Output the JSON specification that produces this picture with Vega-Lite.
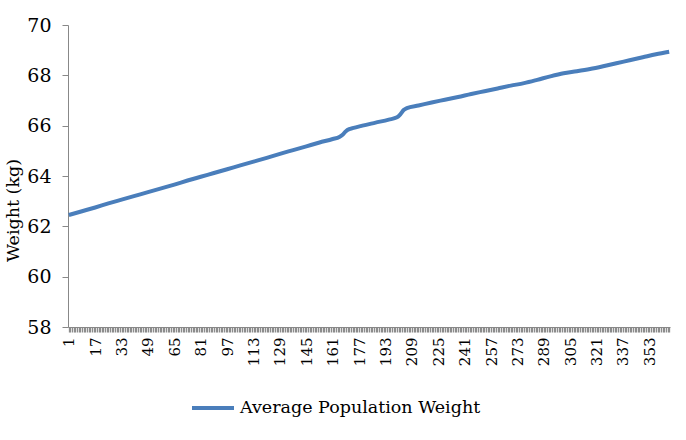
{
  "$schema": "https://vega.github.io/schema/vega-lite/v6.json",
  "width": 602,
  "height": 302,
  "autosize": {"type": "none"},
  "padding": {"left": 68, "top": 25, "right": 16, "bottom": 113},
  "background": "white",
  "config": {"view": {"stroke": null}, "font": "DejaVu Serif"},
  "data": {
    "values": [
      {"day": 1, "weight": 62.45},
      {"day": 9, "weight": 62.60},
      {"day": 17, "weight": 62.75},
      {"day": 25, "weight": 62.91},
      {"day": 33, "weight": 63.06},
      {"day": 41, "weight": 63.21},
      {"day": 49, "weight": 63.36},
      {"day": 57, "weight": 63.51},
      {"day": 65, "weight": 63.66},
      {"day": 73, "weight": 63.82},
      {"day": 81, "weight": 63.97},
      {"day": 89, "weight": 64.12},
      {"day": 97, "weight": 64.27},
      {"day": 105, "weight": 64.42},
      {"day": 113, "weight": 64.57},
      {"day": 121, "weight": 64.72},
      {"day": 129, "weight": 64.88},
      {"day": 137, "weight": 65.03},
      {"day": 145, "weight": 65.18},
      {"day": 153, "weight": 65.33},
      {"day": 161, "weight": 65.47},
      {"day": 165, "weight": 65.55},
      {"day": 167, "weight": 65.64},
      {"day": 169, "weight": 65.78},
      {"day": 171, "weight": 65.86},
      {"day": 173, "weight": 65.90},
      {"day": 179, "weight": 66.00},
      {"day": 187, "weight": 66.12},
      {"day": 195, "weight": 66.24},
      {"day": 200, "weight": 66.33},
      {"day": 202, "weight": 66.45},
      {"day": 204, "weight": 66.62},
      {"day": 206, "weight": 66.70},
      {"day": 213, "weight": 66.80},
      {"day": 221, "weight": 66.92},
      {"day": 229, "weight": 67.03},
      {"day": 237, "weight": 67.14},
      {"day": 245, "weight": 67.26},
      {"day": 253, "weight": 67.37},
      {"day": 261, "weight": 67.48},
      {"day": 269, "weight": 67.59},
      {"day": 277, "weight": 67.69},
      {"day": 285, "weight": 67.82},
      {"day": 293, "weight": 67.96},
      {"day": 301, "weight": 68.08},
      {"day": 309, "weight": 68.16},
      {"day": 317, "weight": 68.25},
      {"day": 325, "weight": 68.36},
      {"day": 333, "weight": 68.48},
      {"day": 341, "weight": 68.60},
      {"day": 349, "weight": 68.72},
      {"day": 357, "weight": 68.84},
      {"day": 365, "weight": 68.94}
    ]
  },
  "mark": {"type": "line", "strokeWidth": 4, "interpolate": "monotone"},
  "encoding": {
    "x": {
      "field": "day",
      "type": "quantitative",
      "scale": {"domain": [0.5, 365.5], "nice": false, "zero": false},
      "axis": {
        "title": null,
        "grid": false,
        "tickCount": 365,
        "labelExpr": "(datum.value - 1) % 16 === 0 && datum.value <= 353 ? '' + datum.value : ''",
        "labelAngle": -90,
        "labelFontSize": 15,
        "labelFont": "DejaVu Serif",
        "labelColor": "#000000",
        "labelOverlap": false,
        "labelFlush": false,
        "labelPadding": 5,
        "tickSize": 5,
        "tickWidth": 1.3,
        "tickColor": "#8c8c8c",
        "domainColor": "#888888",
        "domainWidth": 1
      }
    },
    "y": {
      "field": "weight",
      "type": "quantitative",
      "scale": {"domain": [58, 70], "nice": false, "zero": false},
      "axis": {
        "values": [58, 60, 62, 64, 66, 68, 70],
        "grid": false,
        "title": "Weight (kg)",
        "titleFont": "DejaVu Serif",
        "titleFontSize": 17.5,
        "titleFontWeight": "normal",
        "titleColor": "#000000",
        "titleAngle": -90,
        "titleAlign": "center",
        "titleBaseline": "middle",
        "titleX": -55,
        "titleY": 185,
        "labelFont": "DejaVu Serif",
        "labelFontSize": 19,
        "labelColor": "#000000",
        "labelPadding": 11,
        "tickSize": 6,
        "tickColor": "#888888",
        "domainColor": "#888888",
        "domainWidth": 1
      }
    },
    "color": {
      "datum": "Average Population Weight",
      "type": "nominal",
      "scale": {"range": ["#4a7ebb"]},
      "legend": {
        "title": null,
        "orient": "none",
        "legendX": 122,
        "legendY": 360,
        "padding": 0,
        "symbolType": "stroke",
        "symbolSize": 1764,
        "symbolStrokeWidth": 4,
        "labelFont": "DejaVu Serif",
        "labelFontSize": 17.5,
        "labelColor": "#000000",
        "labelOffset": 4,
        "labelLimit": 400
      }
    }
  }
}
